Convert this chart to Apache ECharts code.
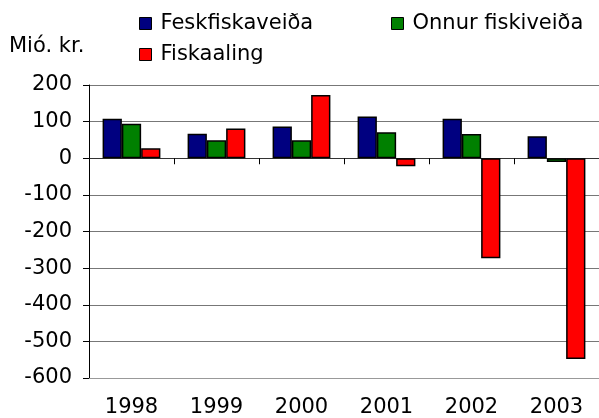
<!DOCTYPE html>
<html>
<head>
<meta charset="utf-8">
<script src="https://cdn.jsdelivr.net/npm/echarts@6/dist/echarts.min.js"></script>
<style>
  html, body { margin: 0; padding: 0; background: #fff; }
  #chart { width: 599px; height: 418px; }
</style>
</head>
<body>
<div id="chart"></div>
<script>
// 年份
var years = ["1998", "1999", "2000", "2001", "2002", "2003"];
// 系列名
var seriesNames = ["Feskfiskaveiða", "Onnur fiskiveiða", "Fiskaaling"];
// 数据 (Mió. kr.)
var feskfiskaveida = [108, 67, 87, 114, 108, 60];
var onnurFiskiveida = [94, 49, 49, 71, 66, -10];
var fiskaaling = [27, 81, 173, -22, -273, -548];
// y轴刻度
var yTicks = [-600, -500, -400, -300, -200, -100, 0, 100, 200];

var font = "DejaVu Sans, Verdana, sans-serif";
var colors = ["#000080", "#008000", "#ff0000"];

var myChart = echarts.init(document.getElementById("chart"));

function legendAt(name, left, top) {
  return {
    data: [name],
    left: left,
    top: top,
    itemWidth: 12,
    itemHeight: 12,
    icon: "rect",
    padding: 0,
    selectedMode: false,
    itemStyle: { borderColor: "#000", borderWidth: 1 },
    textStyle: { fontFamily: font, fontSize: 21, color: "#000", padding: [0, 0, 0, 4] }
  };
}

function bar(name, data, color) {
  return {
    name: name,
    type: "bar",
    data: data,
    xAxisIndex: 0,
    barGap: "0%",
    barCategoryGap: "32%",
    itemStyle: { color: color, borderColor: "#000", borderWidth: 1.5 }
  };
}

var option = {
  backgroundColor: "#fff",
  animation: false,
  title: {
    text: "Mió. kr.",
    left: 9,
    top: 36,
    padding: 0,
    textStyle: { fontFamily: font, fontSize: 21, fontWeight: "normal", color: "#000" }
  },
  legend: [
    legendAt(seriesNames[0], 139, 13),
    legendAt(seriesNames[1], 391, 13),
    legendAt(seriesNames[2], 139, 44)
  ],
  // 右侧被裁切
  grid: { left: 89, right: -7, top: 85, bottom: 39 },
  xAxis: [
    {
      // 底部标签
      type: "category",
      data: years,
      position: "bottom",
      axisLine: { onZero: false, lineStyle: { color: "#999", width: 1 } },
      axisTick: { show: false },
      axisLabel: { margin: 19, fontFamily: font, fontSize: 21, color: "#000" }
    },
    {
      // 零线和刻度
      type: "category",
      data: years,
      position: "bottom",
      axisLine: { onZero: true, lineStyle: { color: "#333", width: 1 } },
      axisTick: { show: true, length: 6, lineStyle: { color: "#000" } },
      axisLabel: { show: false }
    }
  ],
  yAxis: {
    type: "value",
    min: yTicks[0],
    max: yTicks[yTicks.length - 1],
    interval: 100,
    axisLine: { show: true, lineStyle: { color: "#000", width: 1 } },
    axisTick: { show: true, length: 6, lineStyle: { color: "#000" } },
    axisLabel: { margin: 17, fontFamily: font, fontSize: 21, color: "#000" },
    splitLine: { show: true, lineStyle: { color: "#777", width: 1 } }
  },
  series: [
    bar(seriesNames[0], feskfiskaveida, colors[0]),
    bar(seriesNames[1], onnurFiskiveida, colors[1]),
    bar(seriesNames[2], fiskaaling, colors[2])
  ]
};

myChart.setOption(option);
</script>
</body>
</html>
